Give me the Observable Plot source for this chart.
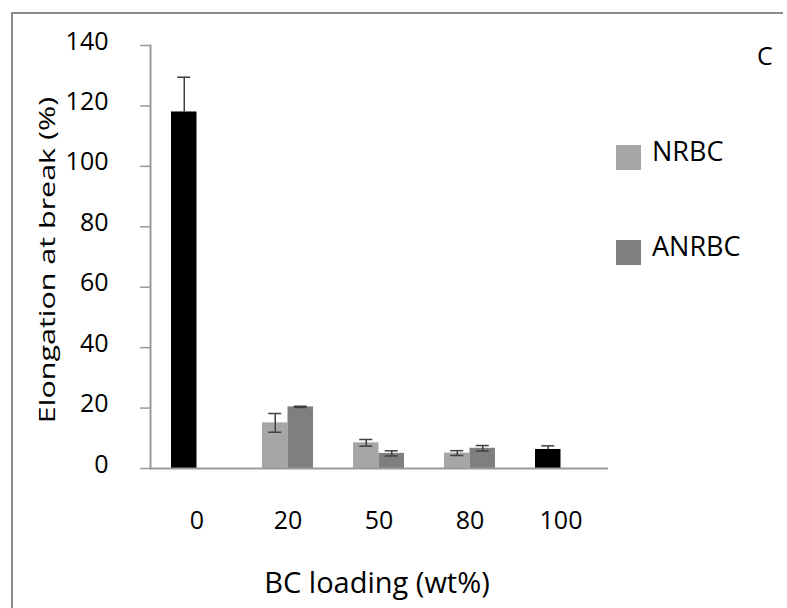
<!DOCTYPE html>
<html>
<head>
<meta charset="utf-8">
<script src="https://cdn.jsdelivr.net/npm/d3@7"></script>
<script src="https://cdn.jsdelivr.net/npm/@observablehq/plot@0.6"></script>
<style>
  html, body { margin: 0; padding: 0; background: #fff; }
  #wrap { position: relative; width: 787px; height: 608px; overflow: hidden; background: #fff; font-family: "Open Sans", sans-serif; color: #000; }
  #frame { position: absolute; left: 11px; top: 12px; width: 772px; height: 700px; border-left: 2px solid #8c8c8c; border-top: 2px solid #8c8c8c; box-sizing: border-box; }
  #chart { position: absolute; left: 0; top: 0; }
  .lbl { position: absolute; white-space: nowrap; line-height: 1; }
  .sw { position: absolute; width: 25px; height: 25px; }
</style>
</head>
<body>
<div id="wrap">
  <div id="frame"></div>
  <div id="chart"></div>
  <div class="lbl" id="ytitle" style="left:47px; top:260px; font-size:21px; transform: translate(-50%,-50%) rotate(-90deg) scaleX(1.45);">Elongation at break (%)</div>
  <div class="lbl" id="xtitle" style="left:377px; top:581px; font-size:29px; transform: translate(-50%,-50%);">BC loading (wt%)</div>
  <div class="lbl" style="left:757px; top:43px; font-size:25px;">C</div>
  <div id="legend"></div>
</div>
<script>
// ---- data ----
const categories = ["0", "20", "50", "80", "100"];
const series = ["NRBC", "ANRBC"];
const nrbcValues = [118.0, 15.1, 8.5, 5.1, 6.3];
const nrbcErrors = [11.5, 3.1, 1.1, 0.8, 1.2];
const anrbcValues = [null, 20.4, 5.0, 6.7, null];
const anrbcErrors = [null, 0.2, 0.85, 0.9, null];
const neatCategories = ["0", "100"];          // unfilled samples shown in black
const seriesColors = ["#a6a6a6", "#7f7f7f"];
const neatColor = "#000000";
const yTicks = [0, 20, 40, 60, 80, 100, 120, 140];

// ---- build rows ----
function rowsFor(values, errors, s) {
  return categories.map((c, i) => ({
    category: c, series: series[s], value: values[i], err: errors[i],
    neat: neatCategories.includes(c),
    color: neatCategories.includes(c) ? neatColor : seriesColors[s]
  })).filter(d => d.value != null);
}
const nrbcRows = rowsFor(nrbcValues, nrbcErrors, 0);
const anrbcRows = rowsFor(anrbcValues, anrbcErrors, 1);
const allRows = nrbcRows.concat(anrbcRows);
const lo = d => d.neat ? d.value : d.value - d.err;   // lower whisker hidden inside black bars
const hi = d => d.value + d.err;

const base = {
  width: 787, height: 608,
  marginLeft: 150, marginRight: 179, marginTop: 45, marginBottom: 140,
  style: { fontFamily: "Open Sans", background: "transparent", color: "#000" },
  x: { domain: categories, paddingInner: 0.436, paddingOuter: 0.218, axis: null },
  y: { domain: [0, 140], axis: null },
  color: { type: "identity" }
};

// probe pass to read the band width of the x scale
const probe = Plot.plot({ ...base, marks: [Plot.barY(allRows, { x: "category", y: "value" })] });
const bw = probe.scale("x").bandwidth;
const half = bw / 2;
const cap = 13;
const capIn = (half - cap) / 2;

const errStroke = "#404040";
const axisGray = "#9a9a9a";

const chart = Plot.plot({
  ...base,
  marks: [
    Plot.barY(nrbcRows, { x: "category", y: "value", fill: "color", insetRight: half }),
    Plot.barY(anrbcRows, { x: "category", y: "value", fill: "color", insetLeft: half }),
    // error bars NRBC
    Plot.ruleX(nrbcRows, { x: "category", y1: lo, y2: hi, dx: -half / 2, stroke: errStroke, strokeWidth: 1.5 }),
    Plot.tickY(nrbcRows, { x: "category", y: hi, insetLeft: capIn, insetRight: half + capIn, stroke: errStroke, strokeWidth: 1.5 }),
    Plot.tickY(nrbcRows.filter(d => !d.neat), { x: "category", y: lo, insetLeft: capIn, insetRight: half + capIn, stroke: errStroke, strokeWidth: 1.5 }),
    // error bars ANRBC
    Plot.ruleX(anrbcRows, { x: "category", y1: lo, y2: hi, dx: half / 2, stroke: errStroke, strokeWidth: 1.5 }),
    Plot.tickY(anrbcRows, { x: "category", y: hi, insetLeft: half + capIn, insetRight: capIn, stroke: errStroke, strokeWidth: 1.5 }),
    Plot.tickY(anrbcRows.filter(d => !d.neat), { x: "category", y: lo, insetLeft: half + capIn, insetRight: capIn, stroke: errStroke, strokeWidth: 1.5 }),
    // axes
    Plot.frame({ anchor: "left", stroke: axisGray, strokeWidth: 2 }),
    Plot.axisY(yTicks, { tickSize: 10, tickFormat: () => "", stroke: axisGray, strokeWidth: 1.5, label: null }),
    Plot.axisY(yTicks, { tickSize: 0, tickPadding: 42, fontSize: 25, fill: "#000", dy: -4, label: null }),
    Plot.ruleY([0], { stroke: axisGray, strokeWidth: 2 }),
    Plot.axisX({ tickSize: 0, tickPadding: 43, fontSize: 25, fill: "#000", label: null })
  ]
});
document.getElementById("chart").appendChild(chart);

// legend
const legend = document.getElementById("legend");
const legendTops = [145, 240];
series.forEach((s, i) => {
  const sw = document.createElement("div");
  sw.className = "sw";
  sw.style.left = "616px";
  sw.style.top = legendTops[i] + "px";
  sw.style.background = seriesColors[i];
  legend.appendChild(sw);
  const t = document.createElement("div");
  t.className = "lbl";
  t.style.left = "652px";
  t.style.top = (legendTops[i] - 8) + "px";
  t.style.fontSize = "27px";
  t.textContent = s;
  legend.appendChild(t);
});
</script>
</body>
</html>
